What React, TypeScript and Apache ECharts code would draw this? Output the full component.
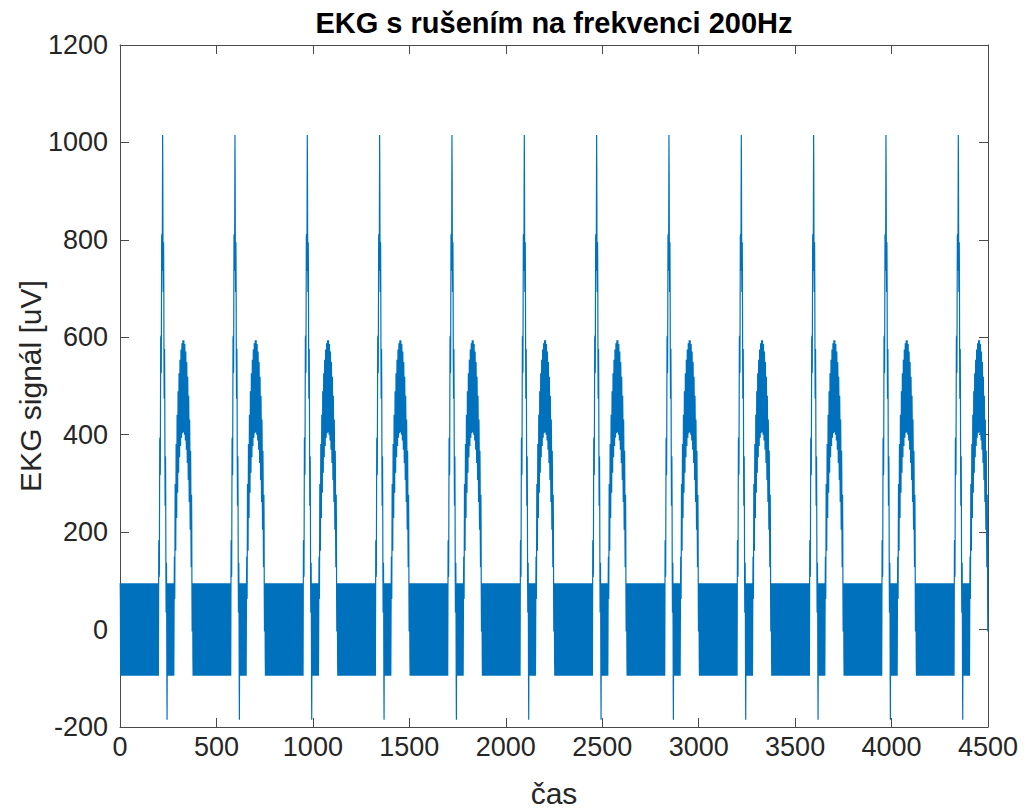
import React, { useEffect, useRef } from "react";
import * as echarts from "echarts";

// ---- data ----
const chartTitle = "EKG s rušením na frekvenci 200Hz";
const xAxisTitle = "čas";
const yAxisTitle = "EKG signál [uV]";

const sampleCount = 4500;
// sample index of every R peak (one heartbeat every ~375 samples)
const beatPeaks = [221, 596, 971, 1346, 1721, 2096, 2471, 2846, 3221, 3596, 3971, 4346];
// QRS complex, one value per sample, starting 22 samples before the R peak
const qrsStartOffset = -22;
const qrsWave = [
  0, 42, 84, 125, 167, 209, 251, 293, 335, 376, 418, 460, 502, 544, 585, 627, 669, 711, 753, 795, 836, 878, 920,
  876, 832, 788, 744, 700, 657, 613, 569, 525, 481, 437, 393, 349, 305, 261, 218, 174, 130, 86, 42, -2, -46, -90,
  -45, 0,
];
// T wave, one value per sample, starting 60 samples after the R peak
const tStartOffset = 60;
const tWave = [
  0, 91, 129, 158, 182, 204, 223, 241, 257, 272, 286, 300, 312, 324, 336, 346, 357, 367, 376, 385, 394, 402, 410,
  417, 424, 431, 437, 443, 449, 454, 459, 464, 468, 472, 476, 480, 483, 486, 489, 491, 493, 495, 497, 498, 499,
  499, 500, 500, 500, 499, 499, 498, 497, 495, 493, 491, 489, 486, 483, 480, 476, 472, 468, 464, 459, 454, 449,
  443, 437, 431, 424, 417, 410, 402, 394, 385, 376, 367, 357, 346, 336, 324, 312, 300, 286, 272, 257, 241, 223,
  204, 182, 158, 129, 91, 0,
];
// 200 Hz interference: one period covers 5 samples (amplitude ~95 uV)
const noiseCycle = [0, 95, 59, -59, -95];

const xTicks = { min: 0, max: 4500, interval: 500 };
const yTicks = { min: -200, max: 1200, interval: 200 };

function buildSignal(): number[][] {
  const pts: number[][] = [];
  for (let x = 1; x <= sampleCount; x++) {
    let v = noiseCycle[x % noiseCycle.length];
    for (const p of beatPeaks) {
      const qi = x - p - qrsStartOffset;
      if (qi >= 0 && qi < qrsWave.length) v += qrsWave[qi];
      const ti = x - p - tStartOffset;
      if (ti >= 0 && ti < tWave.length) v += tWave[ti];
    }
    pts.push([x, v]);
  }
  return pts;
}

const AXIS_COLOR = "#4a4a4a";
const TEXT_COLOR = "#262626";
const FONT = "'Liberation Sans', Arial, Helvetica, sans-serif";

export default function App() {
  const ref = useRef<HTMLDivElement>(null);

  useEffect(() => {
    if (!ref.current) return;
    const chart = echarts.init(ref.current, undefined, { renderer: "svg" });
    const gridLeft = 120;
    const gridTop = 45;
    const gridW = 868;
    const gridH = 682;

    const axisLine = { show: true, onZero: false, lineStyle: { color: AXIS_COLOR, width: 1 } };
    const axisTick = { show: true, inside: true, length: 9, lineStyle: { color: AXIS_COLOR, width: 1 } };
    const label = {
      color: TEXT_COLOR,
      fontSize: 27,
      fontFamily: FONT,
      formatter: (v: number) => String(v),
    };

    chart.setOption({
      animation: false,
      backgroundColor: "#ffffff",
      grid: { left: gridLeft, top: gridTop, width: gridW, height: gridH, containLabel: false },
      xAxis: [
        {
          type: "value",
          position: "bottom",
          ...xTicks,
          axisLine,
          axisTick,
          axisLabel: { ...label, margin: 6 },
          splitLine: { show: false },
        },
        {
          type: "value",
          position: "top",
          ...xTicks,
          axisLine,
          axisTick,
          axisLabel: { show: false },
          splitLine: { show: false },
        },
      ],
      yAxis: [
        {
          type: "value",
          position: "left",
          ...yTicks,
          axisLine,
          axisTick,
          axisLabel: { ...label, margin: 12 },
          splitLine: { show: false },
        },
        {
          type: "value",
          position: "right",
          ...yTicks,
          axisLine,
          axisTick,
          axisLabel: { show: false },
          splitLine: { show: false },
        },
      ],
      series: [
        {
          type: "line",
          xAxisIndex: 0,
          yAxisIndex: 0,
          data: buildSignal(),
          showSymbol: false,
          symbol: "none",
          lineStyle: { color: "#0072BD", width: 1.2 },
          clip: true,
        },
      ],
      graphic: [
        {
          type: "text",
          x: gridLeft + gridW / 2,
          y: 23,
          style: {
            text: chartTitle,
            textAlign: "center",
            textVerticalAlign: "middle",
            font: `bold 29px ${FONT}`,
            fill: "#000000",
          },
        },
        {
          type: "text",
          x: gridLeft + gridW / 2,
          y: 793,
          style: {
            text: xAxisTitle,
            textAlign: "center",
            textVerticalAlign: "middle",
            font: `30px ${FONT}`,
            fill: TEXT_COLOR,
          },
        },
        {
          type: "text",
          x: 30,
          y: gridTop + gridH / 2,
          rotation: Math.PI / 2,
          style: {
            text: yAxisTitle,
            textAlign: "center",
            textVerticalAlign: "middle",
            font: `30px ${FONT}`,
            fill: TEXT_COLOR,
          },
        },
      ],
    });
    return () => chart.dispose();
  }, []);

  return (
    <div
      ref={ref}
      style={{ position: "fixed", left: 0, top: 0, width: 1024, height: 808, background: "#fff" }}
    />
  );
}
